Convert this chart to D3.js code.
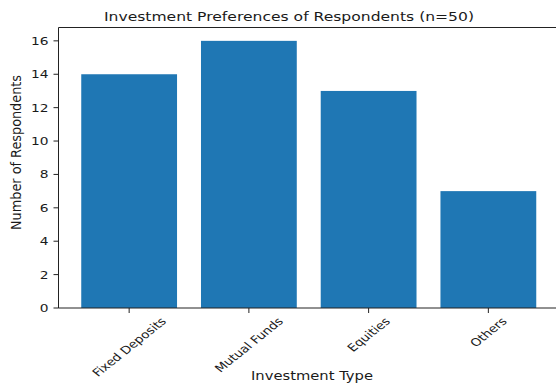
<!DOCTYPE html>
<html>
<head>
<meta charset="utf-8">
<script src="https://cdn.jsdelivr.net/npm/d3@7"></script>
<style>
  body { margin: 0; background: #fff; overflow: hidden; }
  svg { display: block; }
  text { font-family: "DejaVu Sans", sans-serif; fill: #1a1a1a; }
</style>
</head>
<body>
<svg id="chart" width="556" height="390"></svg>
<script>
// data
var categories = ["Fixed Deposits", "Mutual Funds", "Equities", "Others"];
var counts = [14, 16, 13, 7];
var yTicks = [0, 2, 4, 6, 8, 10, 12, 14, 16];
var chartTitle = "Investment Preferences of Respondents (n=50)";
var xTitle = "Investment Type";
var yTitle = "Number of Respondents";

(function() {
    var svg = d3.select("#chart");
    var plotLeft = 58.5, plotRight = 559, plotTop = 27.5, plotBottom = 308;
    // the reference looks stretched sideways, so text gets a wider x scale
    var stretch = 1.25;

    // bar positions as in matplotlib: width 0.8, 5% margins
    var x = d3.scaleLinear()
        .domain([-0.59, categories.length - 1 + 0.59])
        .range([plotLeft, plotRight]);
    var y = d3.scaleLinear().domain([0, 16.8]).range([plotBottom, plotTop]);

    svg.append("g").selectAll("rect")
        .data(counts).enter()
        .append("rect")
        .attr("x", function(d, i) { return x(i - 0.4); })
        .attr("width", function(d, i) { return x(i + 0.4) - x(i - 0.4); })
        .attr("y", function(d) { return y(d); })
        .attr("height", function(d) { return y(0) - y(d); })
        .style("fill", "#1f77b4");

    // spines (right one falls outside the picture)
    svg.append("path")
        .attr("d", "M" + plotLeft + "," + plotTop + "H" + plotRight +
                   "M" + plotLeft + "," + plotTop + "V" + plotBottom + "H" + plotRight)
        .attr("fill", "none")
        .attr("stroke", "#222")
        .attr("stroke-width", 1);

    // y ticks
    var yg = svg.append("g");
    yg.selectAll("line")
        .data(yTicks).enter()
        .append("line")
        .attr("x1", plotLeft - 5)
        .attr("x2", plotLeft)
        .attr("y1", function(d) { return y(d); })
        .attr("y2", function(d) { return y(d); })
        .attr("stroke", "#222");
    yg.selectAll("text")
        .data(yTicks).enter()
        .append("text")
        .attr("transform", function(d) {
            return "translate(" + (plotLeft - 10) + "," + y(d) + ") scale(" + stretch + ",1)";
        })
        .attr("text-anchor", "end")
        .attr("dy", "0.36em")
        .style("font-size", "11px")
        .text(function(d) { return d; });

    // x ticks
    var xg = svg.append("g");
    xg.selectAll("line")
        .data(categories).enter()
        .append("line")
        .attr("x1", function(d, i) { return x(i); })
        .attr("x2", function(d, i) { return x(i); })
        .attr("y1", plotBottom)
        .attr("y2", plotBottom + 5)
        .attr("stroke", "#222");

    var xLabels = xg.selectAll("text")
        .data(categories).enter()
        .append("text")
        .style("font-size", "10.8px")
        .attr("text-anchor", "middle")
        .attr("dy", "0.35em")
        .text(function(d) { return d; });

    // rotated labels centred on the tick, box top just below it
    xLabels.each(function(d, i) {
        var w = this.getComputedTextLength();
        var h = 10.8;
        var cy = 315.5 + (w + h) / (2 * Math.SQRT2);
        d3.select(this).attr("transform",
            "translate(" + x(i) + "," + cy + ") scale(" + stretch + ",1) rotate(-45)");
    });

    // titles
    svg.append("text")
        .attr("x", 289)
        .attr("y", 21)
        .attr("text-anchor", "middle")
        .attr("textLength", 370)
        .attr("lengthAdjust", "spacingAndGlyphs")
        .style("font-size", "13px")
        .text(chartTitle);

    svg.append("text")
        .attr("x", 312)
        .attr("y", 380)
        .attr("text-anchor", "middle")
        .attr("textLength", 122)
        .attr("lengthAdjust", "spacingAndGlyphs")
        .style("font-size", "11.6px")
        .text(xTitle);

    svg.append("text")
        .attr("transform", "translate(21,152.5) scale(" + stretch + ",1) rotate(-90)")
        .attr("text-anchor", "middle")
        .attr("textLength", 155)
        .attr("lengthAdjust", "spacingAndGlyphs")
        .style("font-size", "11.2px")
        .text(yTitle);
})();
</script>
</body>
</html>
